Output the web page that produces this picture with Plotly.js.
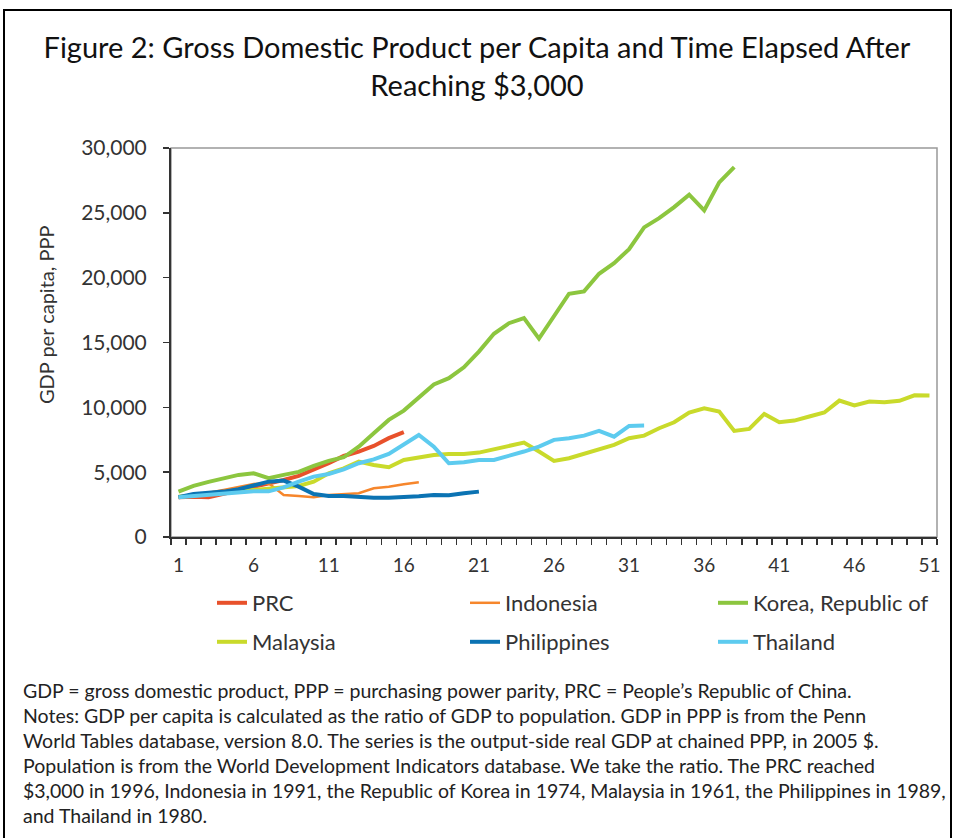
<!DOCTYPE html>
<html>
<head>
<meta charset="utf-8">
<script src="https://cdn.plot.ly/plotly-3.0.1.min.js"></script>
<style>html,body{margin:0;padding:0;background:#fff;}#chart{width:954px;height:838px;}</style>
</head>
<body>
<div id="chart"></div>
<script>
const years = Array.from({length: 51}, (_, i) => i + 1);
const tickLabels = [1, 6, 11, 16, 21, 26, 31, 36, 41, 46, 51];

const prc = [3060, 3110, 3060, 3320, 3580, 3830, 4090, 4400, 4710, 5170, 5690, 6250, 6590, 7020, 7620, 8080];
const indonesia = [3110, 3240, 3420, 3630, 3880, 4090, 4140, 3240, 3160, 3060, 3240, 3320, 3370, 3760, 3880, 4060, 4220];
const korea = [3500, 3940, 4250, 4500, 4790, 4910, 4530, 4790, 5020, 5480, 5870, 6150, 6970, 8000, 9030, 9750, 10770, 11770, 12250, 13090, 14300, 15670, 16490, 16880, 15300, 17080, 18760, 18940, 20300, 21120, 22200, 23880, 24590, 25440, 26400, 25190, 27350, 28530];
const malaysia = [3100, 3200, 3300, 3400, 3500, 3600, 3760, 3830, 3940, 4270, 4910, 5300, 5810, 5560, 5380, 5940, 6150, 6330, 6410, 6410, 6510, 6770, 6970, 7280, 6590, 5870, 6070, 6410, 6710, 7100, 7620, 7820, 8390, 8850, 9600, 9930, 9670, 8180, 8340, 9490, 8850, 8980, 9290, 9600, 10520, 10140, 10450, 10400, 10500, 10930, 10910];
const philippines = [3060, 3320, 3420, 3500, 3680, 3940, 4270, 4350, 3880, 3320, 3160, 3160, 3060, 3030, 3030, 3060, 3140, 3240, 3220, 3370, 3500];
const thailand = [3060, 3160, 3240, 3370, 3470, 3520, 3520, 3830, 4270, 4660, 4860, 5220, 5690, 5990, 6410, 7180, 7870, 6970, 5690, 5760, 5940, 5940, 6250, 6590, 6970, 7490, 7620, 7820, 8180, 7740, 8570, 8590];

const names = ['PRC', 'Indonesia', 'Korea, Republic of', 'Malaysia', 'Philippines', 'Thailand'];
const series = [prc, indonesia, korea, malaysia, philippines, thailand];
const colors = ['#e8512b', '#f6862c', '#8cc63f', '#c9da2b', '#0b73b3', '#5dcbef'];
const widths = [4, 2.5, 4, 4, 4, 4];
const legendIds = ['legend', 'legend2', 'legend3', 'legend4', 'legend5', 'legend6'];

const traces = series.map((vals, i) => ({
  type: 'scatter', mode: 'lines',
  x: years.slice(0, vals.length), y: vals,
  name: names[i],
  line: {color: colors[i], width: widths[i]},
  legend: legendIds[i],
  hoverinfo: 'x+y+name'
}));

const W = 954, H = 838;
const L = 171, R = 937, T = 148, B = 537;
const px = x => (x - L) / (R - L);
const py = y => (B - y) / (B - T);

const FONT = 'Lato, "Open Sans", sans-serif';
const noteLines = [
  'GDP = gross domestic product, PPP = purchasing power parity, PRC = People’s Republic of China.',
  'Notes: GDP per capita is calculated as the ratio of GDP to population. GDP in PPP is from the Penn',
  'World Tables database, version 8.0. The series is the output-side real GDP at chained PPP, in 2005 $.',
  'Population is from the World Development Indicators database. We take the ratio. The PRC reached',
  '$3,000 in 1996, Indonesia in 1991, the Republic of Korea in 1974, Malaysia in 1961, the Philippines in 1989,',
  'and Thailand in 1980.'
];
const noteY = [690, 715, 740, 765, 790, 815];

const annotations = noteLines.map((t, i) => ({
  text: t, xref: 'paper', yref: 'paper', x: px(21), y: py(noteY[i]),
  xanchor: 'left', yanchor: 'middle', showarrow: false,
  font: {family: FONT, size: 19.5, color: '#222'}
}));
annotations.push({
  text: 'GDP per capita, PPP', xref: 'paper', yref: 'paper', x: px(46), y: py(315),
  xanchor: 'center', yanchor: 'middle', showarrow: false, textangle: -90,
  font: {family: FONT, size: 20, color: '#333'}
});

const legendX = [212, 465, 713, 212, 465, 713];
const legendY = [603, 603, 603, 642, 642, 642];

const layout = {
  width: W, height: H,
  margin: {l: L, r: W - R, t: T, b: H - B},
  paper_bgcolor: '#fff', plot_bgcolor: '#fff',
  font: {family: FONT, color: '#333'},
  title: {
    text: 'Figure 2: Gross Domestic Product per Capita and Time Elapsed After<br>Reaching $3,000',
    font: {family: FONT, size: 29, color: '#111'},
    x: 0.5, xref: 'container', xanchor: 'center', y: 1 - 58 / H, yanchor: 'middle'
  },
  xaxis: {
    range: [0.5, 51.5], tickmode: 'array', tickvals: tickLabels, ticktext: tickLabels.map(String),
    ticks: 'outside', ticklen: 0, showgrid: false, zeroline: false,
    showline: true, linecolor: '#333', linewidth: 2,
    tickfont: {family: FONT, size: 19, color: '#333'},
    ticklabelstandoff: 10,
    minor: {ticks: 'outside', tickmode: 'linear', tick0: 0.5, dtick: 1, ticklen: 6, tickcolor: '#333', tickwidth: 1.5, showgrid: false},
    fixedrange: true
  },
  yaxis: {
    range: [0, 30000], dtick: 5000, tickformat: ',', showgrid: false, zeroline: false,
    ticks: 'outside', ticklen: 6, tickcolor: '#333', tickwidth: 1.5,
    showline: true, linecolor: '#333', linewidth: 2,
    tickfont: {family: FONT, size: 21, color: '#333'},
    ticklabelstandoff: 12,
    fixedrange: true
  },
  shapes: [
    {type: 'rect', xref: 'paper', yref: 'paper', x0: 0, x1: 1, y0: 0, y1: 1, line: {color: '#999', width: 1.5}, layer: 'below'},
    {type: 'rect', xref: 'paper', yref: 'paper', x0: px(4), x1: px(951), y0: py(10), y1: py(845), line: {color: '#000', width: 2}, layer: 'below'}
  ],
  annotations: annotations,
  showlegend: true
};

legendIds.forEach((id, i) => {
  layout[id] = {
    x: px(legendX[i]), y: py(legendY[i]), xanchor: 'left', yanchor: 'middle',
    orientation: 'h', font: {family: FONT, size: 22, color: '#333'},
    bgcolor: 'rgba(0,0,0,0)', itemwidth: 30
  };
});

Plotly.newPlot('chart', traces, layout, {displayModeBar: false, staticPlot: true});
</script>
</body>
</html>
